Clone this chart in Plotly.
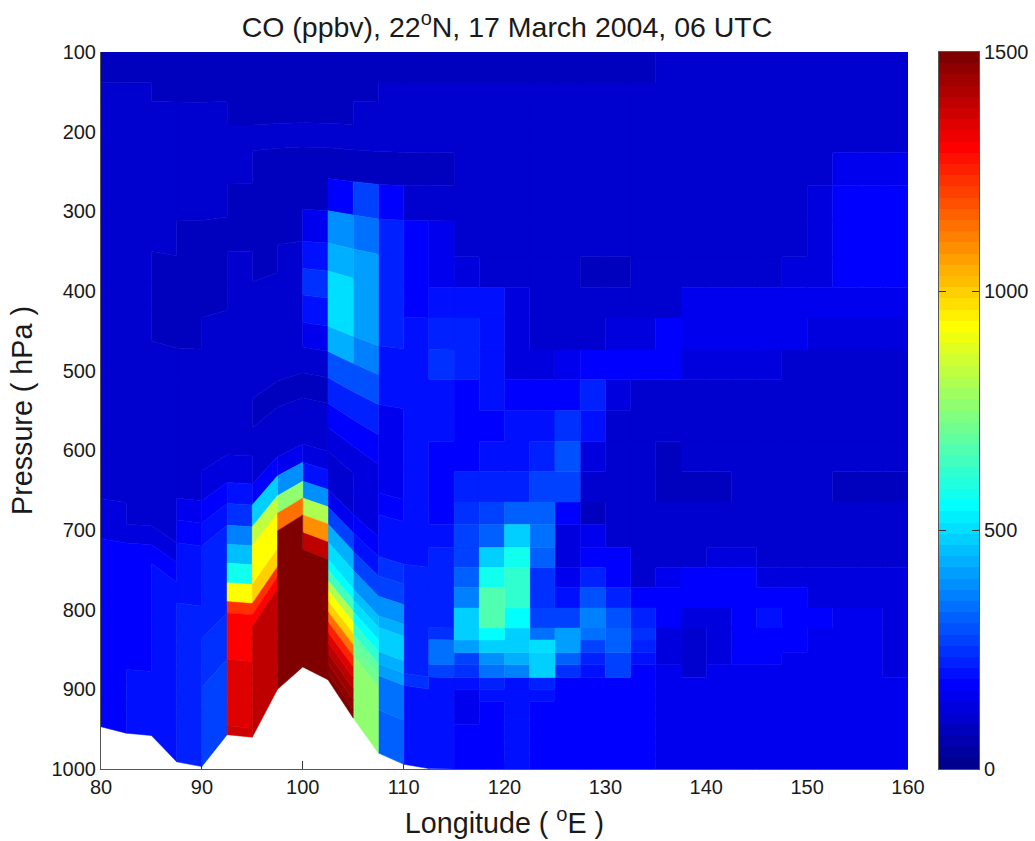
import plotly.graph_objects as go

title_text = "CO (ppbv), 22<sup>o</sup>N, 17 March 2004, 06 UTC"
x_label = "Longitude ( <sup>o</sup>E )"
y_label = "Pressure ( hPa )"
x_ticks = [80, 90, 100, 110, 120, 130, 140, 150, 160]
y_ticks = [100, 200, 300, 400, 500, 600, 700, 800, 900, 1000]
cbar_ticks = [0, 500, 1000, 1500]

longitudes = [80, 82.5, 85, 87.5, 90, 92.5, 95, 97.5, 100, 102.5, 105, 107.5, 110, 112.5, 115, 117.5, 120,
              122.5, 125, 127.5, 130, 132.5, 135, 137.5, 140, 142.5, 145, 147.5, 150, 152.5, 155, 157.5, 160]
surface_pressure = [947, 955, 958, 991, 997, 957, 960, 900, 872, 888, 936, 980, 994, 999.5, 1000, 1000, 1000,
                    1000, 1000, 1000, 1000, 1000, 1000, 1000, 1000, 1000, 1000, 1000, 1000, 1000, 1000, 1000, 1000]
level_pressure = [100, 139, 163, 193, 226, 268, 312, 357, 396, 434, 474, 511, 550, 589, 627, 665, 693, 722, 747,
                  772, 798, 823, 838, 854, 869, 885, 900, 915, 930, 944, 960, 975, 988, 1000]
level_terrain_weight = [0, .009, .018, .033, .052, .081, .114, .153, .189, .226, .268, .315, .37, .43, .50, .57, .61,
                        .65, .68, .71, .74, .77, .79, .81, .83, .85, .87, .89, .905, .92, .945, .965, .98, 1]

co_080 = [88,105,105,105,105,105,105,105,105,105,105,105,105,105,105,105,130,130,165,185,185,185,185,185,185,185,185,185,185,185,185,185,185]
co_082 = [88,105,105,105,105,105,105,105,105,105,105,105,105,105,105,105,100,130,165,185,185,185,185,185,185,185,185,195,195,195,195,195,195]
co_085 = [88,88,105,105,105,105,105,90,90,90,105,105,105,105,105,105,100,135,170,200,200,200,200,200,200,200,200,200,200,200,200,200,200]
co_087 = [88,88,105,105,105,105,90,90,90,90,105,105,105,105,105,150,185,200,200,210,225,225,225,225,225,225,225,225,225,225,225,225,225]
co_090 = [88,88,105,105,105,105,90,90,90,105,105,105,105,105,130,165,195,225,225,225,225,225,245,245,245,245,265,265,265,265,265,265,265]
co_092 = [88,88,88,105,105,88,88,105,105,105,105,105,105,105,125,190,245,370,460,565,930,1240,1290,1310,1310,1310,1345,1345,1345,1345,1345,1345,1375]
co_095 = [88,88,88,105,88,88,88,88,105,105,105,105,88,105,115,165,480,830,935,935,985,1240,1290,1385,1385,1385,1385,1385,1385,1385,1385,1385,1385]
co_097 = [88,88,88,105,88,88,88,105,105,105,105,105,88,105,115,155,375,750,1125,1500,1500,1500,1500,1500,1500,1500,1500,1500,1500,1500,1500,1500,1500]
co_100 = [88,88,88,105,88,88,160,200,250,200,160,110,90,105,105,140,200,390,800,1100,1385,1500,1500,1500,1500,1500,1500,1500,1500,1500,1500,1500,1500]
co_102 = [88,88,88,105,92,170,390,440,495,495,430,290,225,165,130,115,115,150,265,430,510,560,650,800,935,985,1130,1250,1340,1400,1440,1470,1500]
co_105 = [88,88,105,105,92,260,350,400,400,400,360,290,225,165,130,125,140,165,210,280,390,450,500,545,620,680,720,750,750,750,750,750,750]
co_107 = [88,105,105,105,92,185,225,225,225,225,195,195,150,145,145,165,195,200,235,265,380,430,470,480,440,400,350,345,340,320,320,320,320]
co_110 = [88,105,105,105,92,100,175,165,165,205,205,205,190,190,190,190,195,205,230,230,230,230,230,230,230,245,205,205,205,205,205,205,205]
co_112 = [88,105,105,105,92,105,145,145,205,230,235,210,190,170,175,185,205,230,230,225,225,250,330,330,270,205,205,205,205,205,205,205,205]
co_115 = [88,105,105,100,100,100,110,130,190,230,215,185,170,175,230,255,275,275,320,360,470,470,410,280,240,195,150,150,150,170,170,170,170]
co_117 = [88,105,105,100,100,100,100,110,190,195,195,190,180,190,225,260,320,470,565,670,670,555,490,385,350,225,195,165,165,165,165,165,180]
co_120 = [88,105,105,100,100,100,100,105,120,125,135,180,190,190,230,310,470,565,610,610,545,490,490,445,360,205,195,195,195,195,195,195,195]
co_122 = [88,105,105,100,100,100,100,100,110,115,120,185,200,220,265,320,335,320,255,255,270,340,510,490,490,230,210,180,180,180,180,180,180]
co_125 = [88,105,105,105,100,100,100,100,100,105,150,185,235,285,265,185,135,135,160,200,270,400,400,320,240,180,180,180,180,180,180,180,180]
co_127 = [92,105,105,100,100,100,100,88,100,105,165,220,190,130,100,92,150,165,215,290,360,340,265,225,190,180,180,180,180,180,180,180,180]
co_130 = [92,105,105,100,100,100,100,88,100,120,185,140,100,100,100,110,115,170,185,230,285,310,310,270,270,170,170,170,170,170,170,170,170]
co_132 = [92,105,105,100,100,100,100,100,100,125,185,95,95,95,95,110,110,110,100,175,215,235,220,200,165,165,165,165,165,165,165,165,165]
co_135 = [105,100,100,100,100,100,100,100,110,185,165,95,95,92,92,105,105,105,150,165,165,140,140,125,155,155,155,155,155,155,155,155,155]
co_137 = [105,100,100,100,100,100,100,100,150,150,118,100,95,95,92,105,105,105,170,165,120,110,110,110,110,155,155,155,155,155,155,155,155]
co_140 = [105,100,100,100,100,100,100,105,150,150,118,100,95,95,92,105,105,120,170,165,120,130,130,130,155,155,155,155,155,155,155,155,155]
co_142 = [105,100,100,100,100,100,100,105,150,150,118,100,95,95,110,105,105,120,170,165,165,170,170,170,155,155,155,155,155,155,155,155,155]
co_145 = [105,100,100,100,115,115,115,110,150,150,118,100,95,95,110,105,105,105,135,165,200,170,170,170,155,155,155,155,155,155,155,155,155]
co_147 = [105,100,100,100,115,115,115,135,150,150,105,100,95,95,110,105,105,105,135,165,165,170,170,150,155,155,155,155,155,155,155,155,155]
co_150 = [105,100,100,100,115,135,135,135,150,120,105,100,95,95,110,105,105,105,135,140,175,150,150,150,155,155,155,155,155,155,155,155,155]
co_152 = [105,100,100,100,145,165,165,165,150,120,105,100,95,95,92,105,105,105,135,140,145,150,150,150,155,155,155,155,155,155,155,155,155]
co_155 = [105,100,100,100,145,165,165,165,150,120,105,100,95,95,92,105,105,105,135,140,145,150,150,150,155,155,155,155,155,155,155,155,155]
co_157 = [105,100,100,100,145,165,165,165,150,120,105,100,95,95,92,105,105,105,135,140,120,120,120,120,120,155,155,155,155,155,155,155,155]

co_columns = [co_080, co_082, co_085, co_087, co_090, co_092, co_095, co_097, co_100, co_102, co_105, co_107,
              co_110, co_112, co_115, co_117, co_120, co_122, co_125, co_127, co_130, co_132, co_135, co_137,
              co_140, co_142, co_145, co_147, co_150, co_152, co_155, co_157]
for col in co_columns:
    assert len(col) == len(level_pressure) - 1, len(col)

CMAX = 1500
NCOL = 64


def jet(k):
    v = (k + 1) / NCOL
    def ramp(c):
        return max(0.0, min(1.0, 1.5 - abs(4 * v - c)))
    r, g, b = ramp(3), ramp(2), ramp(1)
    return f"rgb({round(r * 255)},{round(g * 255)},{round(b * 255)})"


palette = [jet(k) for k in range(NCOL)]


def node_pressure(i, r):
    return level_pressure[r] + level_terrain_weight[r] * (surface_pressure[i] - 1000)


buckets = {}
for i, col in enumerate(co_columns):
    for r, value in enumerate(col):
        k = min(NCOL - 1, int(value / CMAX * NCOL))
        xs, ys = buckets.setdefault(k, ([], []))
        xs += [longitudes[i], longitudes[i + 1], longitudes[i + 1], longitudes[i], longitudes[i], None]
        ys += [node_pressure(i, r), node_pressure(i + 1, r), node_pressure(i + 1, r + 1),
               node_pressure(i, r + 1), node_pressure(i, r), None]

fig = go.Figure()
for k in sorted(buckets):
    xs, ys = buckets[k]
    fig.add_trace(go.Scatter(x=xs, y=ys, mode="lines", fill="toself", fillcolor=palette[k],
                             line=dict(color=palette[k], width=0.5), hoverinfo="skip", showlegend=False,
                             xaxis="x", yaxis="y"))

cbar_levels = [(k + 0.5) * CMAX / NCOL for k in range(NCOL)]
fig.add_trace(go.Heatmap(x=[0.5], y=cbar_levels, z=[[k] for k in range(NCOL)], zmin=0, zmax=NCOL - 1,
                         colorscale=[[k / (NCOL - 1), palette[k]] for k in range(NCOL)], showscale=False,
                         hoverinfo="skip", xaxis="x2", yaxis="y2"))

W, H = 1035, 841
FONT = "Liberation Sans, Arial, sans-serif"
INK = "#1a1a1a"
AX = "#555555"
fig.update_layout(
    template="none",
    width=W, height=H, margin=dict(l=0, r=0, t=0, b=0, pad=0), paper_bgcolor="white", plot_bgcolor="white",
    showlegend=False, font=dict(family=FONT, color=INK),
    title=dict(text=title_text, x=507 / W, xanchor="center", y=1 - 27 / H, yanchor="middle",
               font=dict(size=28.5, family=FONT, color=INK)),
    xaxis=dict(domain=[101 / W, 908 / W], range=[80, 160], tickmode="array", tickvals=x_ticks, automargin=False,
               ticks="inside", ticklen=8, tickcolor="#333333", tickwidth=1, showgrid=False, zeroline=False,
               showline=True, linecolor=AX, linewidth=1, layer="below traces", tickfont=dict(size=20),
               title=dict(text=x_label, font=dict(size=28.7), standoff=15)),
    yaxis=dict(domain=[1 - 769 / H, 1 - 52 / H], range=[1000, 100], tickmode="array", tickvals=y_ticks, automargin=False,
               ticks="inside", ticklen=8, tickcolor="#333333", tickwidth=1, showgrid=False, zeroline=False,
               showline=True, linecolor=AX, linewidth=1, layer="below traces", tickfont=dict(size=20),
               title=dict(text=y_label, font=dict(size=28.7), standoff=10)),
    xaxis2=dict(domain=[939 / W, 979 / W], range=[0, 1], anchor="y2", showticklabels=False, ticks="", automargin=False,
                showgrid=False, zeroline=False, showline=True, linecolor=AX, linewidth=1, mirror=True),
    yaxis2=dict(domain=[1 - 769 / H, 1 - 52 / H], range=[0, CMAX], anchor="x2", side="right", tickmode="array", automargin=False,
                tickvals=cbar_ticks, ticks="inside", ticklen=7, tickcolor="#333333", tickwidth=1, showgrid=False,
                zeroline=False, showline=True, linecolor=AX, linewidth=1, mirror="ticks", layer="above traces",
                tickfont=dict(size=20)),
)
fig.write_html("out.html", config=dict(displayModeBar=False), post_script="document.body.style.margin='0';")
